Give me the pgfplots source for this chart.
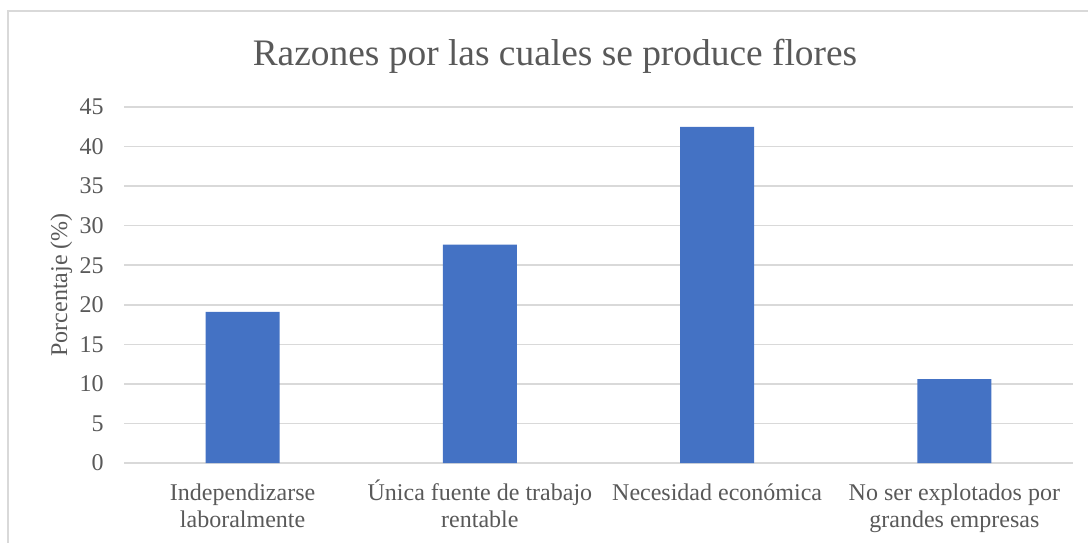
\documentclass[border=0pt]{standalone}
\usepackage{fontspec}
\setmainfont{Liberation Serif}
\usepackage{pgfplots}
\pgfplotsset{compat=1.18}
\definecolor{barblue}{HTML}{4472C4}
\definecolor{txtgray}{HTML}{595959}
\definecolor{gridgray}{HTML}{D9D9D9}
\begin{document}
\begin{tikzpicture}
  \useasboundingbox (0,0) rectangle (544pt,271pt);
  % chart frame (runs past the right and bottom edge)
  \draw[gridgray, line width=0.75pt] (4pt,-20pt) rectangle (600pt,265.5pt);
  \node[txtgray, anchor=base, font=\fontsize{18.7}{22}\selectfont]
    at (277.5pt,238pt) {Razones por las cuales se produce flores};
  \begin{axis}[
      at={(62pt,39.5pt)}, anchor=south west,
      scale only axis, width=474.5pt, height=178pt,
      ybar, bar width=37pt,
      xmin=-0.5, xmax=3.5, ymin=0, ymax=45,
      xtick={0,1,2,3},
      xticklabels={Independizarse\\laboralmente,
                   \smash{Ú}nica fuente de trabajo\\rentable,
                   Necesidad económica,
                   No ser explotados por\\grandes empresas},
      ytick={0,5,...,45},
      ymajorgrids,
      grid style={gridgray, line width=0.75pt},
      axis line style={draw=none},
      major tick length=0pt,
      /pgf/number format/assume math mode=true,
      tick label style={txtgray, font=\fontsize{12}{13.5}\selectfont},
      xticklabel style={anchor=north, align=center, inner sep=0pt, yshift=-10pt},
      yticklabel style={anchor=east, inner sep=0pt, xshift=-10pt},
      ylabel={Porcentaje (\%)},
      ylabel style={txtgray, font=\fontsize{12}{13.5}\selectfont,
                    at={(axis description cs:-0.06,0.5)}, anchor=base},
    ]
    \addplot[fill=barblue, draw=none] coordinates {
      (0,19.1)
      (1,27.6)
      (2,42.5)
      (3,10.6)
    };
  \end{axis}
\end{tikzpicture}
\end{document}
